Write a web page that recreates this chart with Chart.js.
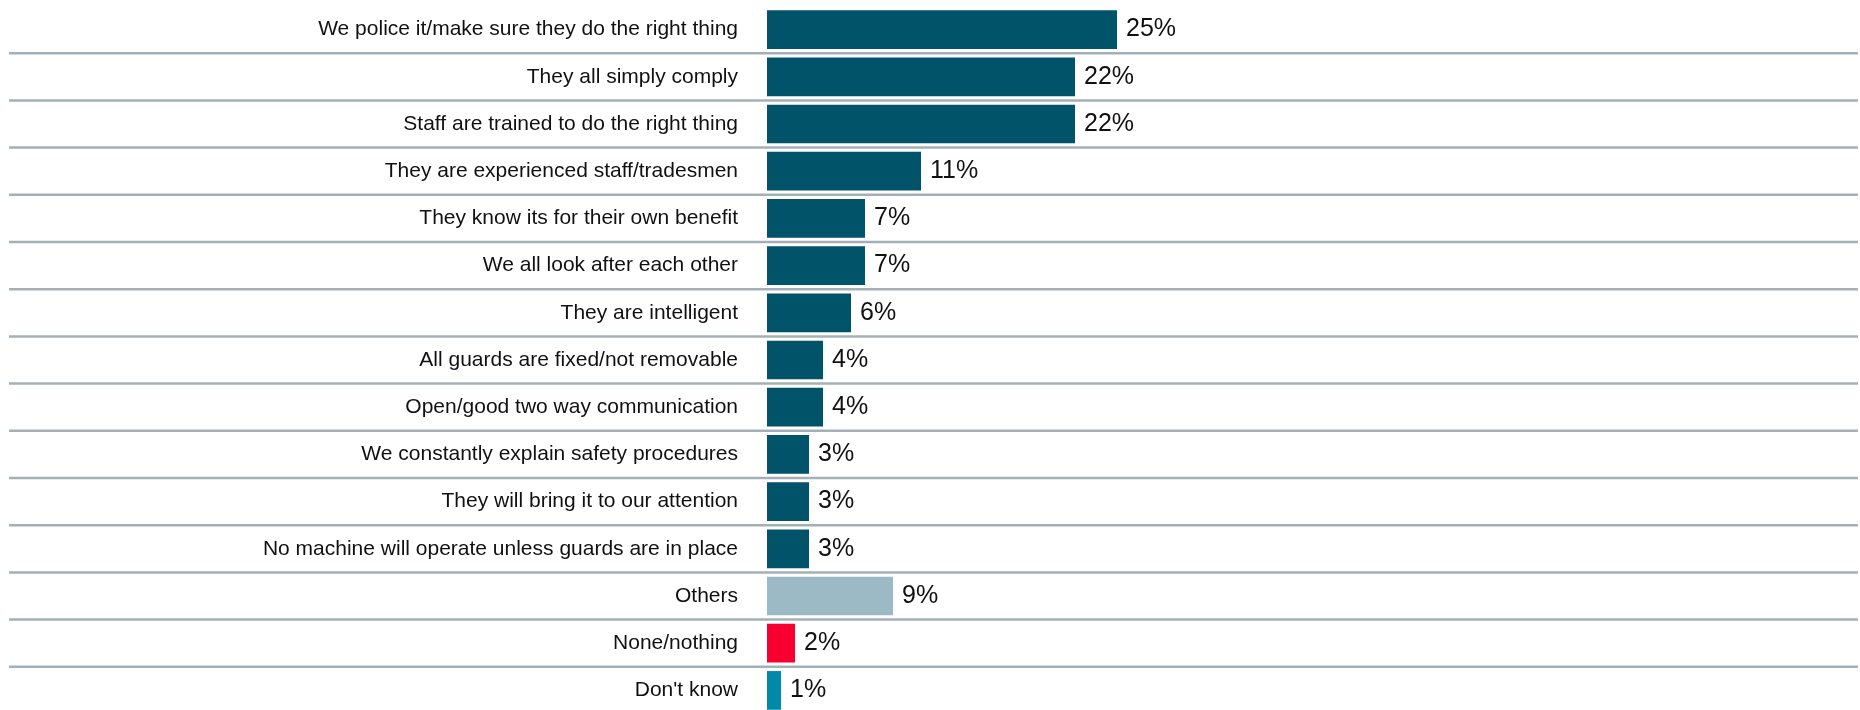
<!DOCTYPE html>
<html>
<head>
<meta charset="utf-8">
<script src="https://cdn.jsdelivr.net/npm/chart.js@4/dist/chart.umd.min.js"></script>
<style>
    html, body { margin: 0; padding: 0; background: #fff; overflow: hidden; }
    #wrap { width: 1860px; height: 714px; }
</style>
</head>
<body>
<div id="wrap"><canvas id="reasonsChart" width="1860" height="714"></canvas></div>
<script>
// Reasons given, in the order shown
const categories = [
    'We police it/make sure they do the right thing',
    'They all simply comply',
    'Staff are trained to do the right thing',
    'They are experienced staff/tradesmen',
    'They know its for their own benefit',
    'We all look after each other',
    'They are intelligent',
    'All guards are fixed/not removable',
    'Open/good two way communication',
    'We constantly explain safety procedures',
    'They will bring it to our attention',
    'No machine will operate unless guards are in place',
    'Others',
    'None/nothing',
    "Don't know"
];

// Share of respondents, %
const values = [25, 22, 22, 11, 7, 7, 6, 4, 4, 3, 3, 3, 9, 2, 1];

const mainColor = '#01536a';
const barColors = categories.map(c => {
    if (c === 'Others') return '#9bbac6';
    if (c === 'None/nothing') return '#f70031';
    if (c === "Don't know") return '#0089a8';
    return mainColor;
});

// Separators between rows, running across the label area too
const rowSeparators = {
    id: 'rowSeparators',
    beforeDatasetsDraw(chart) {
        const y = chart.scales.y;
        const ctx = chart.ctx;
        ctx.save();
        ctx.strokeStyle = '#a4b0b7';
        ctx.lineWidth = 2.5;
        for (let i = 1; i < categories.length; i++) {
            const yy = (y.getPixelForTick(i - 1) + y.getPixelForTick(i)) / 2;
            ctx.beginPath();
            ctx.moveTo(9, yy);
            ctx.lineTo(1858, yy);
            ctx.stroke();
        }
        ctx.restore();
    }
};

// Percent labels at the end of each bar
const valueLabels = {
    id: 'valueLabels',
    afterDatasetsDraw(chart) {
        const ctx = chart.ctx;
        const meta = chart.getDatasetMeta(0);
        ctx.save();
        ctx.font = '25px "Liberation Sans", Arial, sans-serif';
        ctx.fillStyle = '#111';
        ctx.textAlign = 'left';
        ctx.textBaseline = 'middle';
        meta.data.forEach((bar, i) => {
            ctx.fillText(values[i] + '%', bar.x + 9, bar.y);
        });
        ctx.restore();
    }
};

new Chart(document.getElementById('reasonsChart'), {
    type: 'bar',
    data: {
        labels: categories,
        datasets: [{
            data: values,
            backgroundColor: barColors,
            borderWidth: 0,
            barPercentage: 0.82,
            categoryPercentage: 1
        }]
    },
    options: {
        indexAxis: 'y',
        responsive: false,
        animation: false,
        devicePixelRatio: 1,
        layout: {
            padding: { top: 6, right: 1, bottom: 0, left: 0 }
        },
        scales: {
            x: {
                display: false,
                min: 0,
                max: 78
            },
            y: {
                // fixed label column, no extra room above/below the rows
                afterFit: function(scale) {
                    scale.width = 767;
                    scale.paddingTop = 0;
                    scale.paddingBottom = 0;
                },
                grid: { display: false, drawTicks: false },
                border: { display: false },
                ticks: {
                    padding: 29,
                    color: '#111',
                    autoSkip: false,
                    font: { family: '"Liberation Sans", Arial, sans-serif', size: 21 }
                }
            }
        },
        plugins: {
            legend: { display: false },
            tooltip: { enabled: false }
        }
    },
    plugins: [rowSeparators, valueLabels]
});
</script>
</body>
</html>
